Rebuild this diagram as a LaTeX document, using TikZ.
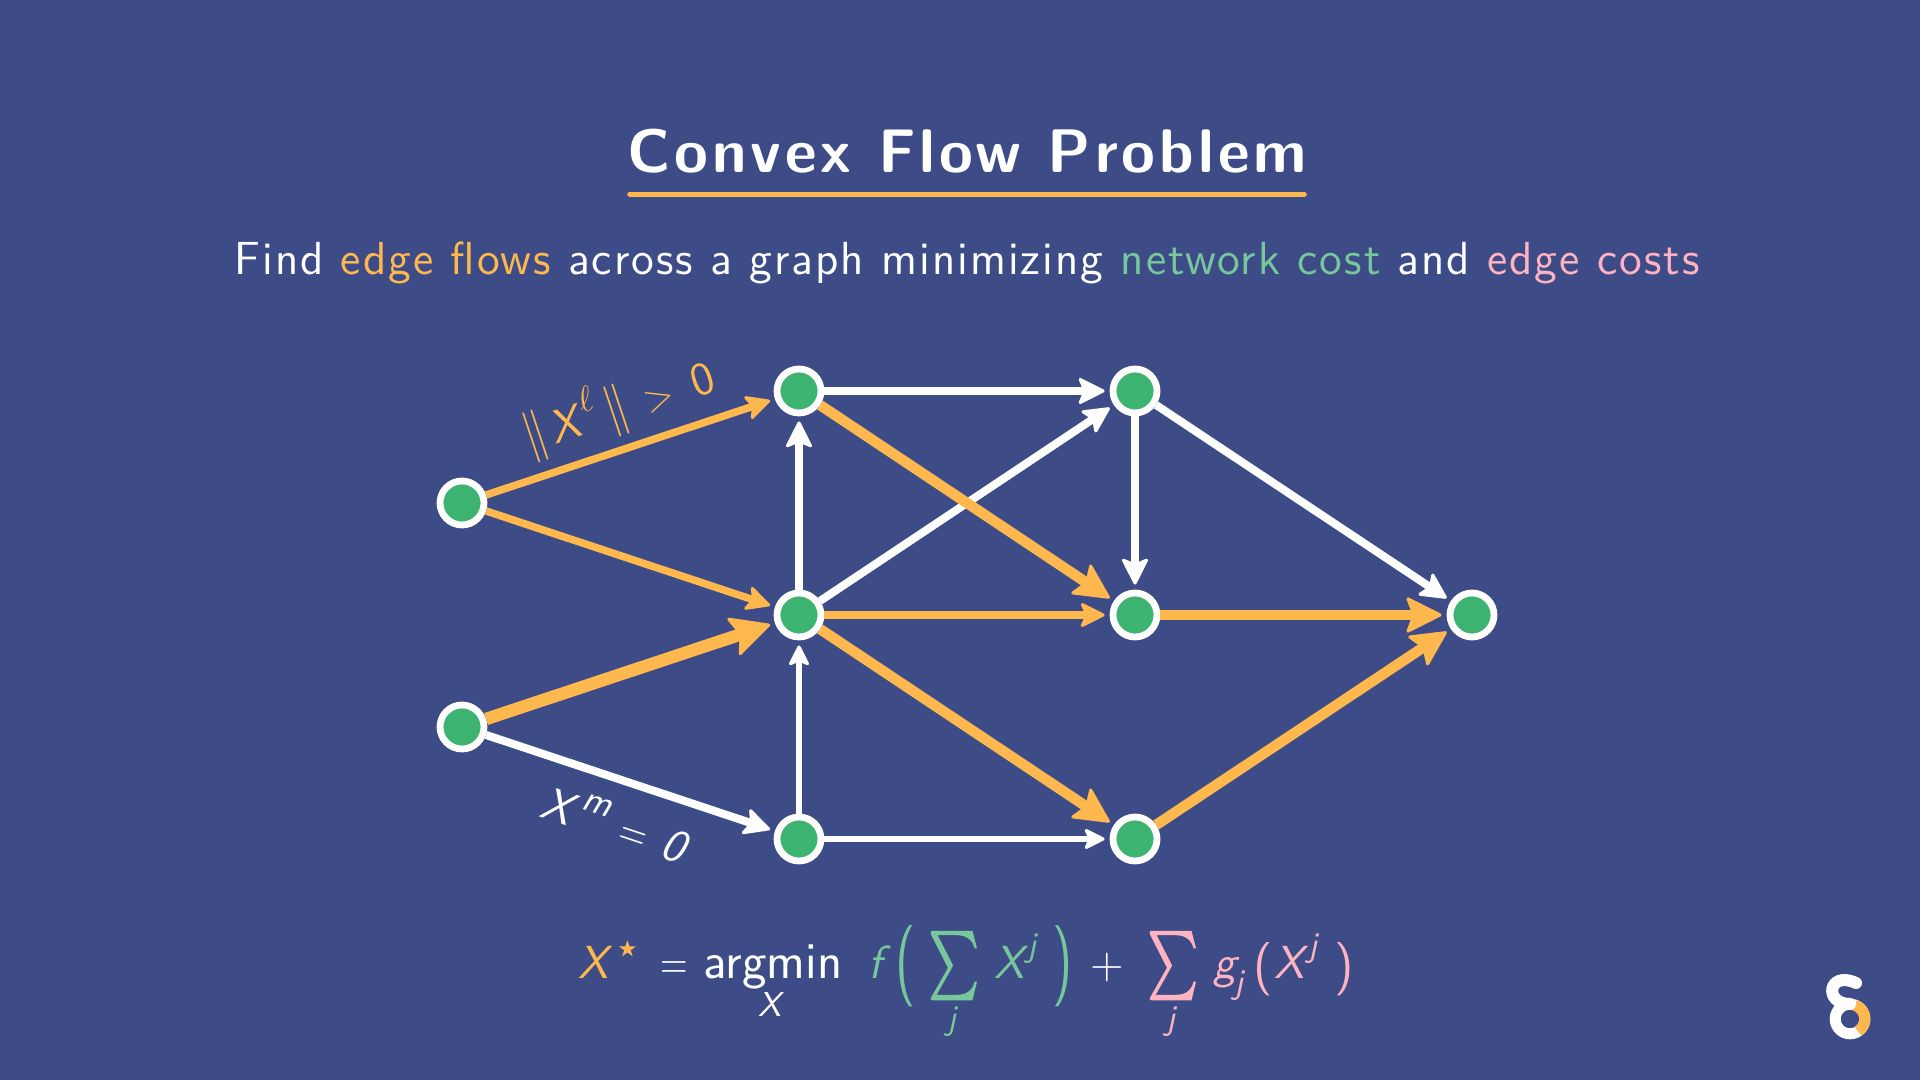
\documentclass[tikz,border=0pt]{standalone}
\usepackage{amsmath}
\usepackage{amssymb}
\usepackage{graphicx}
\usepackage{fontspec}
\setsansfont{Latin Modern Sans}
\newfontfamily\TitleFont[LetterSpace=6.5]{Latin Modern Sans}
\newfontfamily\LineFont[LetterSpace=4.45]{Latin Modern Sans}
\newfontfamily\SumFont[FakeBold=2.5]{Latin Modern Math}
\usetikzlibrary{arrows.meta,positioning}
\definecolor{SlideBlue}{HTML}{3D4C87}
\definecolor{FlowOrange}{HTML}{FFB84D}
\definecolor{NetGreen}{HTML}{77C79B}
\definecolor{EdgePink}{HTML}{FFB3C1}
\definecolor{NodeGreen}{HTML}{3CB371}
\newcommand{\Slot}[2]{\makebox[#1cm][l]{#2}}
\newcommand{\SumMark}{\raisebox{-1pt}{\scalebox{0.7}[1]{\fontsize{19.3}{20}\selectfont\SumFont ∑}}}
\newcommand{\TallParen}[1]{\raisebox{-2pt}{\scalebox{1.15}[1.75]{#1}}}
\newcommand{\NarrowEq}{\scalebox{0.78}[1]{=}}
\newcommand{\SupSize}{\fontsize{9.8}{11}\selectfont}
\tikzset{
  vertex/.style={circle,draw=white,fill=NodeGreen,line width=0.068cm,
    minimum size=0.44cm,inner sep=0pt},
  flowS/.style={line width=0.075cm,draw=FlowOrange,shorten >=0.05cm,
    -{Stealth[round,line width=0.03cm,length=0.27cm,width=0.27cm,inset=0.06cm]}},
  flowM/.style={line width=0.085cm,draw=FlowOrange,shorten >=0.05cm,
    -{Stealth[round,line width=0.03cm,length=0.27cm,width=0.27cm,inset=0.06cm]}},
  flowL/.style={line width=0.105cm,draw=FlowOrange,shorten >=0.05cm,
    -{Stealth[round,line width=0.03cm,length=0.38cm,width=0.38cm,inset=0.07cm]}},
  flowXL/.style={line width=0.125cm,draw=FlowOrange,shorten >=0.05cm,
    -{Stealth[round,line width=0.03cm,length=0.42cm,width=0.42cm,inset=0.08cm]}},
  plainS/.style={line width=0.06cm,draw=white,shorten >=0.05cm,
    -{Stealth[round,line width=0.03cm,length=0.23cm,width=0.23cm,inset=0.05cm]}},
  plainL/.style={line width=0.08cm,draw=white,shorten >=0.05cm,
    -{Stealth[round,line width=0.03cm,length=0.29cm,width=0.29cm,inset=0.06cm]}},
  labeltext/.style={font=\fontsize{13.2}{16}\selectfont\sffamily,inner sep=0pt},
}
\begin{document}
\begin{tikzpicture}
  \fill[SlideBlue] (0,0) rectangle (19.2,10.8);
  \useasboundingbox (0,0) rectangle (19.2,10.8);

  % heading
  \node[text=white,inner sep=0pt,font=\fontsize{17.5}{20}\selectfont\TitleFont\bfseries] (title) at (9.67,9.29) {Convex Flow Problem};
  \coordinate (ruleL) at (6.3,8.857);
  \coordinate (ruleR) at (13.04,8.857);
  \draw[FlowOrange,line width=0.055cm,line cap=round] (ruleL) -- (ruleR);
  \node[text=white,inner sep=0pt,font=\fontsize{13.2}{15}\selectfont\LineFont] (intro) at (9.67,8.17) {Find \textcolor{FlowOrange}{edge flows} across a graph minimizing \textcolor{NetGreen}{network cost} and \textcolor{EdgePink}{edge costs}};

  % graph
  \node[vertex] (s1) at (4.62,5.77) {};
  \node[vertex] (s2) at (4.62,3.53) {};
  \node[vertex] (a1) at (7.99,6.89) {};
  \node[vertex] (a2) at (7.99,4.65) {};
  \node[vertex] (a3) at (7.99,2.41) {};
  \node[vertex] (b1) at (11.35,6.89) {};
  \node[vertex] (b2) at (11.35,4.65) {};
  \node[vertex] (b3) at (11.35,2.41) {};
  \node[vertex] (t1) at (14.72,4.65) {};
  \draw[flowS] (s1) -- (a1);
  \draw[flowS] (s1) -- (a2);
  \draw[flowXL] (s2) -- (a2);
  \draw[plainL] (s2) -- (a3);
  \draw[plainL] (a1) -- (b1);
  \draw[plainL] (a2) -- (a1);
  \draw[plainS] (a3) -- (a2);
  \draw[plainL] (a2) -- (b1);
  \draw[flowL] (a1) -- (b2);
  \draw[flowM] (a2) -- (b2);
  \draw[flowL] (a2) -- (b3);
  \draw[plainS] (a3) -- (b3);
  \draw[plainL] (b1) -- (b2);
  \draw[plainL] (b1) -- (t1);
  \draw[flowL] (b2) -- (t1);
  \draw[flowL] (b3) -- (t1);

  % edge labels
  \node[labeltext,text=FlowOrange,rotate=18.4] (lab1) at (6.19,6.74) {\scalebox{1.05}[1.25]{$\|$}\kern1.5pt\textsl{X}\raisebox{6pt}{\scalebox{0.85}{$\ell$}}\kern2.5pt\scalebox{1.05}[1.25]{$\|$}\kern5pt\scalebox{0.85}{>}\kern6pt 0};
  \node[labeltext,text=white,rotate=-18.4] (lab2) at (6.16,2.57) {\textsl{X}\kern1pt\raisebox{6pt}{\fontsize{10.5}{11}\selectfont\textsl{m}}\kern4.5pt\NarrowEq\kern4.5pt\textsl{0}};

  % objective
  \node[labeltext,text=FlowOrange,anchor=base west] (xstar) at (5.78,1.01) {\textsl{X}\kern1.5pt\raisebox{7pt}{\scalebox{0.42}{$\bigstar$}}};
  \node[labeltext,text=white,anchor=base west] (argmin) at (6.6,1.01) {\Slot{0.43}{\NarrowEq}\fontsize{14.8}{16}\selectfont argmin};
  \node[labeltext,text=white,anchor=base,font=\SupSize\sffamily] (argsub) at (7.72,0.63) {\textsl{X}};
  \node[labeltext,text=NetGreen,anchor=base west] (netcost) at (8.68,1.01) {\Slot{0.27}{\textsl{f}}\Slot{0.33}{\TallParen{(}}\Slot{0.66}{\SumMark}\Slot{0.33}{\textsl{X}}\raisebox{6.5pt}{\Slot{0.25}{\SupSize\textsl{j}}}\TallParen{)}};
  \node[labeltext,text=NetGreen,anchor=base,font=\SupSize\sffamily] (netsub) at (9.53,0.5) {\textsl{j}};
  \node[labeltext,text=white,anchor=base west] (plus) at (10.9,1.01) {\scalebox{0.95}{+}};
  \node[labeltext,text=EdgePink,anchor=base west] (edgecost) at (11.47,1.01) {\Slot{0.66}{\SumMark}\Slot{0.21}{\textsl{g}}\raisebox{-4pt}{\Slot{0.19}{\SupSize\textsl{j}}}\Slot{0.21}{\raisebox{-1pt}{\scalebox{1.1}[1.15]{(}}}\Slot{0.34}{\textsl{X}}\raisebox{6.5pt}{\Slot{0.26}{\SupSize\textsl{j}}}\raisebox{-1pt}{\scalebox{1.1}[1.15]{)}}};
  \node[labeltext,text=EdgePink,anchor=base,font=\SupSize\sffamily] (edgesub) at (11.72,0.5) {\textsl{j}};

  % logo
  \draw[white,line width=0.11cm] (18.5,0.61) circle (0.148);
  \draw[FlowOrange,line width=0.11cm] (18.5,0.61) ++(-57:0.148) arc (-57:72:0.148);
  \draw[white,line width=0.12cm,line cap=round] (18.56,0.97) .. controls (18.28,1.1) and (18.23,0.76) .. (18.5,0.76);
\end{tikzpicture}
\end{document}
